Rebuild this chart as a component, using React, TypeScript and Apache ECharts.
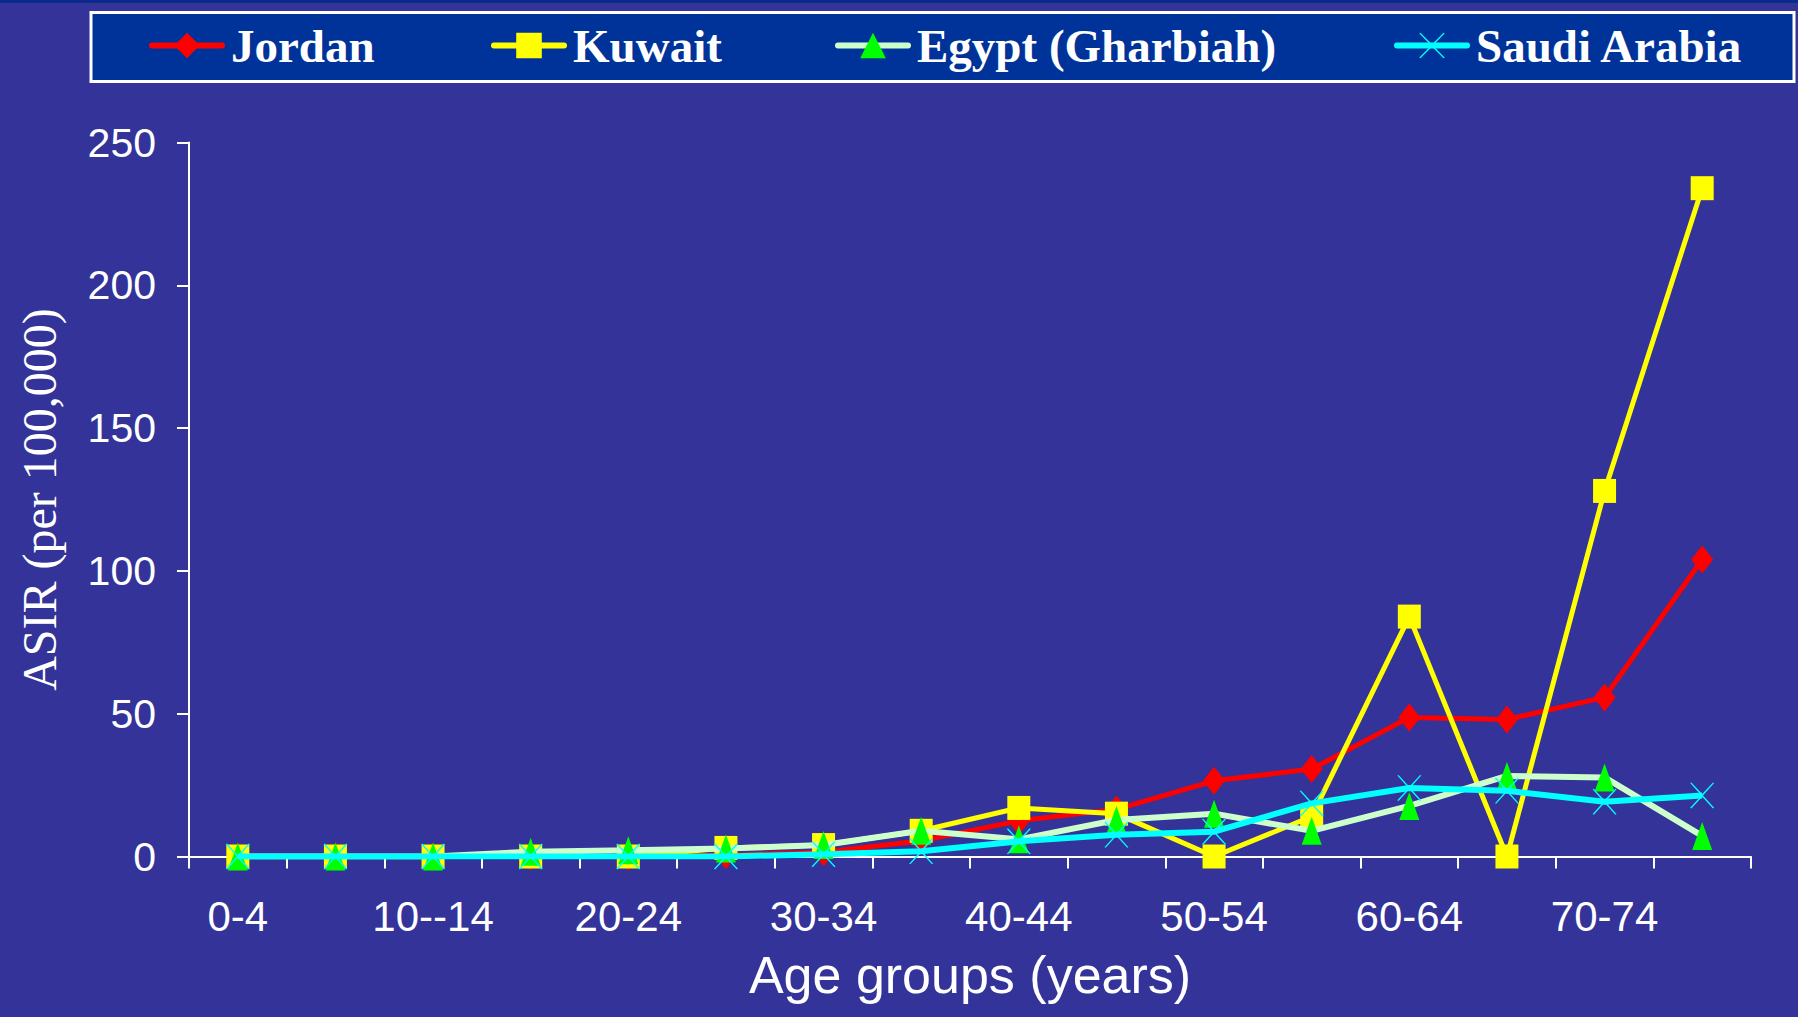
import React, { useEffect, useRef } from "react";
import * as echarts from "echarts";

const categories = ["0-4", "5-9", "10--14", "15-19", "20-24", "25-29", "30-34", "35-39", "40-44", "45-49", "50-54", "55-59", "60-64", "65-69", "70-74", "75+"];
const jordan = [0, 0, 0, 0, 0, 0.5, 1.5, 5.5, 12.5, 16.5, 26.5, 30.6, 48.7, 48, 55.7, 104];
const kuwait = [0, 0, 0, 0, 0, 3, 4, 9, 17, 15, 0, 14, 84, 0, 128, 234];
const egypt = [0, 0, 0, 1.7, 2.2, 2.8, 4, 9, 6, 12.8, 15, 9, 17.7, 28.2, 27.7, 7.2];
const saudi = [0, 0, 0, 0, 0, 0, 0.8, 1.8, 5.3, 7.6, 8.7, 18.6, 24, 23, 19.2, 21.4];
const yTicks = [0, 50, 100, 150, 200, 250];

const X_PATH = "path://M1,0 L10,12.6 L19,0 L20,0.7 L10.7,14 L20,27.3 L19,28 L10,15.4 L1,28 L0,27.3 L9.3,14 L0,0.7 Z";

export default function App() {
  const ref = useRef<HTMLDivElement>(null);
  useEffect(() => {
    document.body.style.margin = "0";
    const chart = echarts.init(ref.current!, null, { renderer: "svg" });
    const legendText = { color: "#ffffff", fontFamily: "'Liberation Serif', 'Times New Roman', serif", fontWeight: "bold" as const, fontSize: 47 };
    const mkLegend = (name: string, left: number) => ({
      data: [name], left, top: 22, itemWidth: 70, itemHeight: 32, padding: 0,
      textStyle: { ...legendText, padding: [0, 0, 0, 4] }, selectedMode: false, z: 5,
      lineStyle: { width: 6, cap: "round" },
    });
    chart.setOption({
      animation: false,
      backgroundColor: "#333399",
      graphic: [
        { type: "rect", z: 0, shape: { x: 0, y: 0, width: 1798, height: 3 }, style: { fill: "#0A2A8C" } },
        { type: "rect", z: 1, shape: { x: 91, y: 12.5, width: 1703, height: 69 }, style: { fill: "#003399", stroke: "#ffffff", lineWidth: 3 } },
      ],
      legend: [
        mkLegend("Jordan", 149),
        mkLegend("Kuwait", 491),
        mkLegend("Egypt (Gharbiah)", 835),
        mkLegend("Saudi Arabia", 1394),
      ],
      grid: { left: 189, right: 47, top: 142.5, bottom: 160.5, containLabel: false },
      xAxis: {
        type: "category",
        data: categories,
        boundaryGap: true,
        name: "Age groups (years)",
        nameLocation: "middle",
        nameGap: 92,
        nameTextStyle: { color: "#ffffff", fontFamily: "'Liberation Sans', Arial, sans-serif", fontSize: 52 },
        axisLine: { lineStyle: { color: "#ffffff", width: 2 } },
        axisTick: { show: true, interval: 0, length: 12, lineStyle: { color: "#ffffff", width: 2 } },
        axisLabel: { interval: 1, color: "#ffffff", fontFamily: "'Liberation Sans', Arial, sans-serif", fontSize: 42, margin: 39 },
        splitLine: { show: false },
      },
      yAxis: {
        type: "value",
        min: yTicks[0],
        max: yTicks[yTicks.length - 1],
        interval: 50,
        name: "ASIR (per 100,000)",
        nameLocation: "middle",
        nameGap: 126,
        nameTextStyle: { color: "#ffffff", fontFamily: "'Liberation Serif', 'Times New Roman', serif", fontSize: 48 },
        axisLine: { show: true, lineStyle: { color: "#ffffff", width: 2 } },
        axisTick: { show: true, length: 12, lineStyle: { color: "#ffffff", width: 2 } },
        axisLabel: { color: "#ffffff", fontFamily: "'Liberation Sans', Arial, sans-serif", fontSize: 41, margin: 33 },
        splitLine: { show: false },
      },
      series: [
        {
          name: "Jordan", type: "line", data: jordan,
          symbol: "diamond", symbolSize: [22, 28],
          lineStyle: { color: "#FF0000", width: 5 },
          itemStyle: { color: "#FF0000" },
          z: 2,
        },
        {
          name: "Kuwait", type: "line", data: kuwait,
          symbol: "rect", symbolSize: [23, 24],
          lineStyle: { color: "#FFFF00", width: 5 },
          itemStyle: { color: "#FFFF00" },
          z: 3,
        },
        {
          name: "Egypt (Gharbiah)", type: "line", data: egypt,
          symbol: "triangle", symbolSize: [20, 28],
          lineStyle: { color: "#CCFFCC", width: 6 },
          itemStyle: { color: "#00FF00" },
          z: 4,
        },
        {
          name: "Saudi Arabia", type: "line", data: saudi,
          symbol: X_PATH, symbolSize: [24, 26], symbolKeepAspect: false,
          lineStyle: { color: "#00FFFF", width: 6 },
          itemStyle: { color: "#00FFFF" },
          z: 5,
        },
      ],
    });
    return () => chart.dispose();
  }, []);
  return <div ref={ref} style={{ width: 1798, height: 1017, position: "absolute", left: 0, top: 0 }} />;
}
